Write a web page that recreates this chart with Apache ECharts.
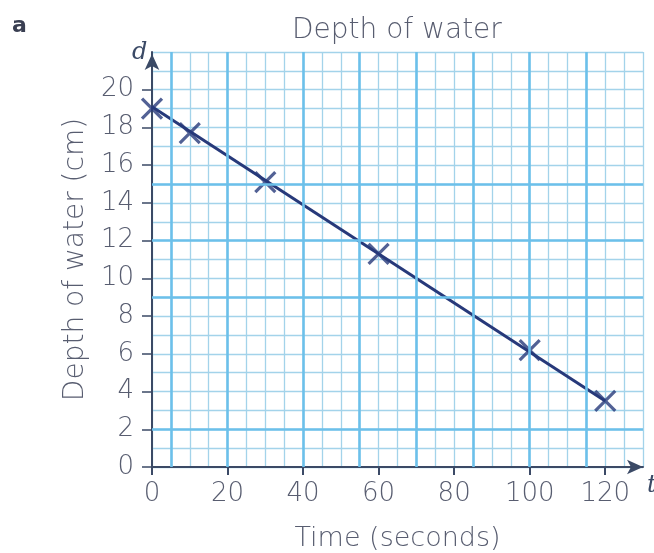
<!DOCTYPE html>
<html>
<head>
<meta charset="utf-8">
<script src="https://cdn.jsdelivr.net/npm/echarts@6/dist/echarts.min.js"></script>
<style>
html,body{margin:0;padding:0;background:#fff;}
#chart{width:654px;height:553px;}
</style>
</head>
<body>
<div id="chart"></div>
<script>
// Data
const timeSeconds = [0, 10, 30, 60, 100, 120];
const depthCm = [19.0, 17.7, 15.1, 11.3, 6.2, 3.5];
// Line of best fit end points
const fitTime = [0, 120];
const fitDepth = [19.1, 3.5];
// Tick labels
const xTickValues = [0, 20, 40, 60, 80, 100, 120];
const yTickValues = [0, 2, 4, 6, 8, 10, 12, 14, 16, 18, 20];
// Graph-paper heavier lines
const xMajorGrid = [5, 20, 40, 55, 70, 85, 100, 115];
const yMajorGrid = [2, 9, 12, 15];

const textColor = '#585d70';
const axisColor = '#3b4a66';
const markColor = '#27397a';
const gridMinor = '#a3d3ea';
const gridMajor = '#6cc0ea';
const fontFamily = "'DejaVu Sans', sans-serif";

const chart = echarts.init(document.getElementById('chart'), null, {renderer: 'canvas'});

const option = {
  backgroundColor: '#ffffff',
  animation: false,
  title: {
    text: 'Depth of water',
    left: 287, top: 12,
    textStyle: {color: textColor, fontSize: 28, fontWeight: 200, fontFamily: fontFamily}
  },
  grid: {left: 152, right: 11, top: 52, bottom: 86, containLabel: false, outerBoundsMode: 'none'},
  xAxis: [
    {
      type: 'value', min: 0, max: 130, interval: 20,
      name: 'Time (seconds)', nameLocation: 'middle', nameGap: 58,
      nameTextStyle: {color: textColor, fontSize: 27, fontWeight: 200, fontFamily: fontFamily},
      axisLine: {show: true, lineStyle: {color: axisColor, width: 2}, symbol: ['none', 'arrow'], symbolSize: [11, 16], symbolOffset: [0, 0]},
      axisTick: {show: true, length: 8, lineStyle: {color: axisColor, width: 2}, customValues: xTickValues},
      axisLabel: {color: textColor, fontSize: 26, fontWeight: 200, fontFamily: fontFamily, margin: 14, customValues: xTickValues},
      splitLine: {show: false}
    },
    {
      type: 'value', min: 0, max: 130, interval: 5, position: 'bottom',
      axisLine: {show: false}, axisTick: {show: false}, axisLabel: {show: false},
      splitLine: {show: true, lineStyle: {color: gridMinor, width: 1.3}}
    }
  ],
  yAxis: [
    {
      type: 'value', min: 0, max: 22, interval: 2,
      name: 'Depth of water (cm)', nameLocation: 'middle', nameGap: 62, nameRotate: 90,
      nameTextStyle: {color: textColor, fontSize: 28, fontWeight: 200, fontFamily: fontFamily},
      axisLine: {show: true, lineStyle: {color: axisColor, width: 2}, symbol: ['none', 'arrow'], symbolSize: [11, 16], symbolOffset: [0, -2]},
      axisTick: {show: true, length: 10, lineStyle: {color: axisColor, width: 1.5}, customValues: yTickValues},
      axisLabel: {color: textColor, fontSize: 26, fontWeight: 200, fontFamily: fontFamily, margin: 18, customValues: yTickValues},
      splitLine: {show: false}
    },
    {
      type: 'value', min: 0, max: 22, interval: 1, position: 'left',
      axisLine: {show: false}, axisTick: {show: false}, axisLabel: {show: false},
      splitLine: {show: true, lineStyle: {color: gridMinor, width: 1.3}}
    }
  ],
  graphic: [
    {type: 'text', left: 12, top: 15, style: {text: 'a', fill: '#3a3f52', font: "bold 22px 'DejaVu Sans', sans-serif"}},
    {type: 'text', left: 132, top: 41, style: {text: 'd', fill: '#3b4a66', font: "italic 24px 'DejaVu Serif', serif"}},
    {type: 'text', left: 647, top: 474, style: {text: 't', fill: '#3b4a66', font: "italic 24px 'DejaVu Serif', serif"}}
  ],
  series: [
    {
      type: 'line', xAxisIndex: 0, yAxisIndex: 0, data: [], silent: true,
      markLine: {
        silent: true, symbol: ['none', 'none'], label: {show: false},
        lineStyle: {color: gridMajor, width: 2.6, type: 'solid'},
        data: xMajorGrid.map(v => ({xAxis: v})).concat(yMajorGrid.map(v => ({yAxis: v})))
      },
      z: 1
    },
    {
      type: 'line', xAxisIndex: 0, yAxisIndex: 0,
      data: fitTime.map((t, i) => [t, fitDepth[i]]),
      symbol: 'none', lineStyle: {color: markColor, width: 3}, z: 3
    },
    {
      type: 'scatter', xAxisIndex: 0, yAxisIndex: 0,
      data: timeSeconds.map((t, i) => [t, depthCm[i]]),
      symbol: 'path://M0,0L10,10M10,0L0,10', symbolSize: 20,
      itemStyle: {color: 'rgba(0,0,0,0)', borderColor: markColor, borderWidth: 3.2},
      z: 4
    }
  ]
};
chart.setOption(option);
</script>
</body>
</html>
